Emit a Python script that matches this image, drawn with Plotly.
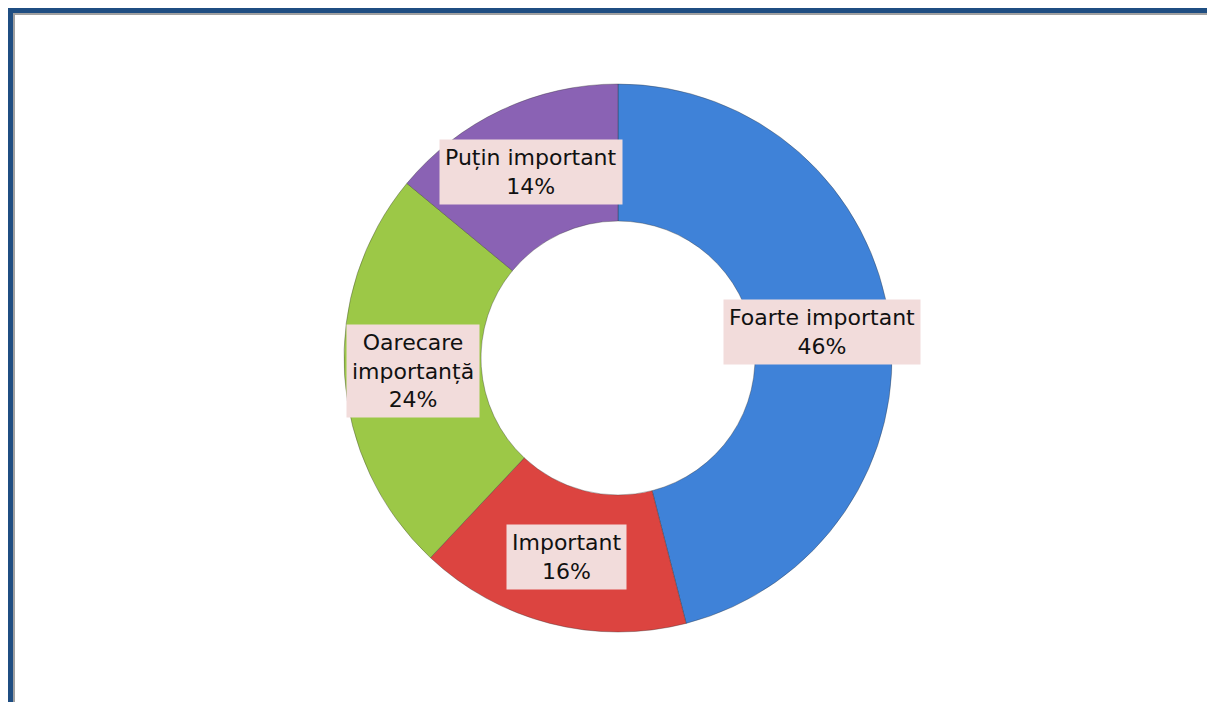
import math
import plotly.graph_objects as go

categories = ["Foarte important", "Important", "Oarecare<br>importanță", "Puțin important"]
values = [46, 16, 24, 14]
colors = ["#3F82D8", "#DC4440", "#9CC847", "#8A62B4"]

OFF = 8  # page body margin
W, H = 1215 - OFF, 702 - OFF
cx, cy, R = 618 - OFF, 358 - OFF, 274  # pixel centre (figure coords) and outer radius
hole = 0.5

fig = go.Figure(go.Pie(
    labels=categories, values=values, sort=False, direction="clockwise",
    rotation=0, hole=hole, textinfo="none", hoverinfo="label+percent",
    marker=dict(colors=colors, line=dict(color="rgba(50,50,50,0.35)", width=1)),
    domain=dict(x=[(cx - R) / W, (cx + R) / W], y=[(H - cy - R) / H, (H - cy + R) / H]),
    showlegend=False,
))

# labels positioned at slice mid-angles
total = sum(values)
cum = 0
r_lab = R * 0.75
for lab, v in zip(categories, values):
    mid = (cum + v / 2) / total * 2 * math.pi
    cum += v
    px = cx + r_lab * math.sin(mid)
    py = cy - r_lab * math.cos(mid)
    fig.add_annotation(
        x=px / W, y=1 - py / H, xref="paper", yref="paper",
        xanchor="center", yanchor="middle",
        text=f"{lab}<br>{round(v / total * 100)}%", showarrow=False,
        font=dict(family="DejaVu Sans", size=22, color="#111111"),
        bgcolor="#F2DCDB", borderpad=5, align="center",
    )

# frame
shapes = [
    dict(type="rect", x0=0, x1=5 / W, y0=0, y1=1, fillcolor="#1F4E82", line_width=0, layer="above"),
    dict(type="rect", x0=0, x1=1, y0=1 - 5 / H, y1=1, fillcolor="#1F4E82", line_width=0, layer="above"),
    dict(type="rect", x0=5 / W, x1=7 / W, y0=0, y1=1 - 5 / H, fillcolor="#A0A0A0", line_width=0, layer="above"),
    dict(type="rect", x0=5 / W, x1=1, y0=1 - 7 / H, y1=1 - 5 / H, fillcolor="#A0A0A0", line_width=0, layer="above"),
]
fig.update_layout(
    width=W, height=H, margin=dict(l=0, r=0, t=0, b=0),
    paper_bgcolor="white", plot_bgcolor="white", shapes=shapes,
)
fig.write_html("out.html")
